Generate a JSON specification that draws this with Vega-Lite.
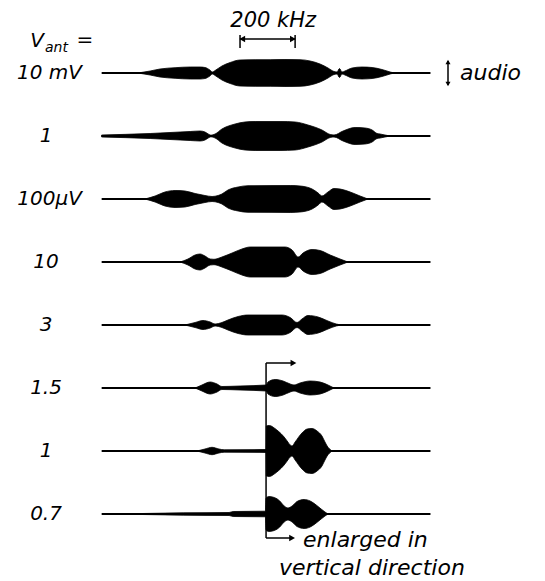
{
  "$schema": "https://vega.github.io/schema/vega-lite/v6.json",
  "width": 545,
  "height": 581,
  "autosize": {"type": "fit", "contains": "padding"},
  "padding": 0,
  "background": "white",
  "config": {"view": {"stroke": null}},
  "encoding": {
    "x": {"field": "f", "type": "quantitative", "scale": {"domain": [-971, 1018], "nice": false, "zero": false}, "axis": null},
    "y": {"field": "v", "type": "quantitative", "scale": {"domain": [-67, 514], "nice": false, "zero": false}, "axis": null}
  },
  "layer": [
    {
      "data": {"values": [
        {"r": "10 mV", "f": -600, "f2": 600, "v": 441},
        {"r": "1 mV", "f": -600, "f2": 600, "v": 378},
        {"r": "100 uV", "f": -600, "f2": 600, "v": 315},
        {"r": "10 uV", "f": -600, "f2": 600, "v": 252},
        {"r": "3 uV", "f": -600, "f2": 600, "v": 189},
        {"r": "1.5 uV", "f": -600, "f2": 600, "v": 126},
        {"r": "1 uV", "f": -600, "f2": 600, "v": 63},
        {"r": "0.7 uV", "f": -600, "f2": 600, "v": 0}
      ]},
      "mark": {"type": "rule", "color": "black", "strokeWidth": 2},
      "encoding": {"x2": {"field": "f2"}}
    },
    {
      "data": {"values": [
        {"r": "10 mV", "f": -467, "v": 441, "v2": 441},
        {"r": "10 mV", "f": -423, "v": 443, "v2": 439},
        {"r": "10 mV", "f": -387, "v": 445, "v2": 437},
        {"r": "10 mV", "f": -332, "v": 446.3, "v2": 435.7},
        {"r": "10 mV", "f": -277, "v": 447, "v2": 435},
        {"r": "10 mV", "f": -241, "v": 447, "v2": 435},
        {"r": "10 mV", "f": -223, "v": 446.5, "v2": 435.5},
        {"r": "10 mV", "f": -205, "v": 444, "v2": 438},
        {"r": "10 mV", "f": -196, "v": 442, "v2": 440},
        {"r": "10 mV", "f": -186, "v": 443.5, "v2": 438.5},
        {"r": "10 mV", "f": -161, "v": 448, "v2": 434},
        {"r": "10 mV", "f": -131, "v": 451.5, "v2": 430.5},
        {"r": "10 mV", "f": -95, "v": 454, "v2": 428},
        {"r": "10 mV", "f": -40, "v": 454.3, "v2": 427.7},
        {"r": "10 mV", "f": 15, "v": 454.3, "v2": 427.7},
        {"r": "10 mV", "f": 69, "v": 454.5, "v2": 427.5},
        {"r": "10 mV", "f": 124, "v": 454.3, "v2": 427.7},
        {"r": "10 mV", "f": 161, "v": 453, "v2": 429},
        {"r": "10 mV", "f": 197, "v": 450, "v2": 432},
        {"r": "10 mV", "f": 226, "v": 446, "v2": 436},
        {"r": "10 mV", "f": 248, "v": 442.5, "v2": 439.5},
        {"r": "10 mV", "f": 259, "v": 442, "v2": 440},
        {"r": "10 mV", "f": 268, "v": 445.5, "v2": 436.5},
        {"r": "10 mV", "f": 277, "v": 442, "v2": 440},
        {"r": "10 mV", "f": 288, "v": 443, "v2": 439},
        {"r": "10 mV", "f": 314, "v": 446, "v2": 436},
        {"r": "10 mV", "f": 350, "v": 447, "v2": 435},
        {"r": "10 mV", "f": 387, "v": 446.5, "v2": 435.5},
        {"r": "10 mV", "f": 423, "v": 444.5, "v2": 437.5},
        {"r": "10 mV", "f": 453, "v": 442, "v2": 440},
        {"r": "10 mV", "f": 467, "v": 441, "v2": 441},

        {"r": "1 mV", "f": -600, "v": 379, "v2": 377},
        {"r": "1 mV", "f": -423, "v": 380.5, "v2": 375.5},
        {"r": "1 mV", "f": -277, "v": 382.5, "v2": 373.5},
        {"r": "1 mV", "f": -241, "v": 383, "v2": 373},
        {"r": "1 mV", "f": -223, "v": 382, "v2": 374},
        {"r": "1 mV", "f": -208, "v": 379.5, "v2": 376.5},
        {"r": "1 mV", "f": -201, "v": 378.8, "v2": 377.2},
        {"r": "1 mV", "f": -186, "v": 380, "v2": 376},
        {"r": "1 mV", "f": -161, "v": 385, "v2": 371},
        {"r": "1 mV", "f": -113, "v": 390, "v2": 366},
        {"r": "1 mV", "f": -77, "v": 392, "v2": 364},
        {"r": "1 mV", "f": -40, "v": 392.5, "v2": 363.5},
        {"r": "1 mV", "f": 51, "v": 392.5, "v2": 363.5},
        {"r": "1 mV", "f": 106, "v": 392, "v2": 364},
        {"r": "1 mV", "f": 153, "v": 389, "v2": 367},
        {"r": "1 mV", "f": 204, "v": 384, "v2": 372},
        {"r": "1 mV", "f": 234, "v": 379.5, "v2": 376.5},
        {"r": "1 mV", "f": 248, "v": 379, "v2": 377},
        {"r": "1 mV", "f": 281, "v": 383, "v2": 373},
        {"r": "1 mV", "f": 325, "v": 386.5, "v2": 369.5},
        {"r": "1 mV", "f": 361, "v": 386, "v2": 370},
        {"r": "1 mV", "f": 387, "v": 384, "v2": 372},
        {"r": "1 mV", "f": 405, "v": 380.5, "v2": 375.5},
        {"r": "1 mV", "f": 416, "v": 380, "v2": 376},
        {"r": "1 mV", "f": 434, "v": 379, "v2": 377},
        {"r": "1 mV", "f": 453, "v": 378, "v2": 378},

        {"r": "100 uV", "f": -442, "v": 315, "v2": 315},
        {"r": "100 uV", "f": -405, "v": 318, "v2": 312},
        {"r": "100 uV", "f": -369, "v": 322, "v2": 308},
        {"r": "100 uV", "f": -332, "v": 323.5, "v2": 306.5},
        {"r": "100 uV", "f": -296, "v": 323, "v2": 307},
        {"r": "100 uV", "f": -259, "v": 320.5, "v2": 309.5},
        {"r": "100 uV", "f": -223, "v": 318.5, "v2": 311.5},
        {"r": "100 uV", "f": -197, "v": 317.5, "v2": 312.5},
        {"r": "100 uV", "f": -175, "v": 318.5, "v2": 311.5},
        {"r": "100 uV", "f": -161, "v": 320, "v2": 310},
        {"r": "100 uV", "f": -139, "v": 324, "v2": 306},
        {"r": "100 uV", "f": -102, "v": 327, "v2": 303},
        {"r": "100 uV", "f": -66, "v": 328.3, "v2": 301.7},
        {"r": "100 uV", "f": 88, "v": 328.5, "v2": 301.5},
        {"r": "100 uV", "f": 124, "v": 328, "v2": 302},
        {"r": "100 uV", "f": 168, "v": 325, "v2": 305},
        {"r": "100 uV", "f": 190, "v": 321, "v2": 309},
        {"r": "100 uV", "f": 204, "v": 318, "v2": 312},
        {"r": "100 uV", "f": 226, "v": 322, "v2": 308},
        {"r": "100 uV", "f": 248, "v": 325.5, "v2": 304.5},
        {"r": "100 uV", "f": 270, "v": 325, "v2": 305},
        {"r": "100 uV", "f": 307, "v": 322, "v2": 308},
        {"r": "100 uV", "f": 343, "v": 318, "v2": 312},
        {"r": "100 uV", "f": 372, "v": 315, "v2": 315},

        {"r": "10 uV", "f": -314, "v": 252, "v2": 252},
        {"r": "10 uV", "f": -285, "v": 255, "v2": 249},
        {"r": "10 uV", "f": -259, "v": 259, "v2": 245},
        {"r": "10 uV", "f": -241, "v": 260, "v2": 244},
        {"r": "10 uV", "f": -223, "v": 258, "v2": 246},
        {"r": "10 uV", "f": -204, "v": 255, "v2": 249},
        {"r": "10 uV", "f": -190, "v": 254.7, "v2": 249.3},
        {"r": "10 uV", "f": -161, "v": 257, "v2": 247},
        {"r": "10 uV", "f": -124, "v": 261, "v2": 243},
        {"r": "10 uV", "f": -88, "v": 265, "v2": 239},
        {"r": "10 uV", "f": -58, "v": 267, "v2": 237},
        {"r": "10 uV", "f": 69, "v": 267, "v2": 237},
        {"r": "10 uV", "f": 95, "v": 264, "v2": 240},
        {"r": "10 uV", "f": 117, "v": 257, "v2": 247},
        {"r": "10 uV", "f": 135, "v": 261, "v2": 243},
        {"r": "10 uV", "f": 168, "v": 264.5, "v2": 239.5},
        {"r": "10 uV", "f": 197, "v": 263.5, "v2": 240.5},
        {"r": "10 uV", "f": 234, "v": 259, "v2": 245},
        {"r": "10 uV", "f": 270, "v": 255, "v2": 249},
        {"r": "10 uV", "f": 299, "v": 252, "v2": 252},

        {"r": "3 uV", "f": -296, "v": 189, "v2": 189},
        {"r": "3 uV", "f": -259, "v": 191.5, "v2": 186.5},
        {"r": "3 uV", "f": -230, "v": 193.5, "v2": 184.5},
        {"r": "3 uV", "f": -204, "v": 192, "v2": 186},
        {"r": "3 uV", "f": -186, "v": 190, "v2": 188},
        {"r": "3 uV", "f": -161, "v": 191.5, "v2": 186.5},
        {"r": "3 uV", "f": -139, "v": 194, "v2": 184},
        {"r": "3 uV", "f": -102, "v": 197.5, "v2": 180.5},
        {"r": "3 uV", "f": -66, "v": 199, "v2": 179},
        {"r": "3 uV", "f": 58, "v": 199, "v2": 179},
        {"r": "3 uV", "f": 88, "v": 196.5, "v2": 181.5},
        {"r": "3 uV", "f": 113, "v": 191.5, "v2": 186.5},
        {"r": "3 uV", "f": 131, "v": 195, "v2": 183},
        {"r": "3 uV", "f": 153, "v": 198.5, "v2": 179.5},
        {"r": "3 uV", "f": 190, "v": 197, "v2": 181},
        {"r": "3 uV", "f": 226, "v": 193, "v2": 185},
        {"r": "3 uV", "f": 256, "v": 190, "v2": 188},
        {"r": "3 uV", "f": 277, "v": 189, "v2": 189},

        {"r": "1.5 uV", "f": -259, "v": 126, "v2": 126},
        {"r": "1.5 uV", "f": -234, "v": 129, "v2": 123},
        {"r": "1.5 uV", "f": -204, "v": 132, "v2": 120},
        {"r": "1.5 uV", "f": -179, "v": 130, "v2": 122},
        {"r": "1.5 uV", "f": -161, "v": 127.5, "v2": 124.5},
        {"r": "1.5 uV", "f": -95, "v": 128, "v2": 124},
        {"r": "1.5 uV", "f": 0, "v": 129, "v2": 123},
        {"r": "1.5 uV", "f": 7, "v": 132, "v2": 120},
        {"r": "1.5 uV", "f": 33, "v": 134.5, "v2": 117.5},
        {"r": "1.5 uV", "f": 62, "v": 133, "v2": 119},
        {"r": "1.5 uV", "f": 88, "v": 130, "v2": 122},
        {"r": "1.5 uV", "f": 102, "v": 129, "v2": 123},
        {"r": "1.5 uV", "f": 124, "v": 131, "v2": 121},
        {"r": "1.5 uV", "f": 161, "v": 133, "v2": 119},
        {"r": "1.5 uV", "f": 197, "v": 132, "v2": 120},
        {"r": "1.5 uV", "f": 226, "v": 129, "v2": 123},
        {"r": "1.5 uV", "f": 248, "v": 126, "v2": 126},

        {"r": "1 uV", "f": -252, "v": 63, "v2": 63},
        {"r": "1 uV", "f": -223, "v": 65, "v2": 61},
        {"r": "1 uV", "f": -197, "v": 66.7, "v2": 59.3},
        {"r": "1 uV", "f": -172, "v": 65, "v2": 61},
        {"r": "1 uV", "f": -153, "v": 64.2, "v2": 61.8},
        {"r": "1 uV", "f": 0, "v": 64.5, "v2": 61.5},
        {"r": "1 uV", "f": 1, "v": 88, "v2": 38},
        {"r": "1 uV", "f": 12, "v": 88.5, "v2": 37.5},
        {"r": "1 uV", "f": 30, "v": 86, "v2": 40},
        {"r": "1 uV", "f": 44, "v": 83, "v2": 43},
        {"r": "1 uV", "f": 66, "v": 77, "v2": 49},
        {"r": "1 uV", "f": 77, "v": 73, "v2": 53},
        {"r": "1 uV", "f": 88, "v": 69, "v2": 57},
        {"r": "1 uV", "f": 95, "v": 68, "v2": 58},
        {"r": "1 uV", "f": 106, "v": 72, "v2": 54},
        {"r": "1 uV", "f": 131, "v": 81, "v2": 45},
        {"r": "1 uV", "f": 150, "v": 85, "v2": 41},
        {"r": "1 uV", "f": 168, "v": 85.5, "v2": 40.5},
        {"r": "1 uV", "f": 186, "v": 83, "v2": 43},
        {"r": "1 uV", "f": 204, "v": 78, "v2": 48},
        {"r": "1 uV", "f": 215, "v": 72, "v2": 54},
        {"r": "1 uV", "f": 223, "v": 68, "v2": 58},
        {"r": "1 uV", "f": 241, "v": 63, "v2": 63},

        {"r": "0.7 uV", "f": -450, "v": 0.5, "v2": -0.5},
        {"r": "0.7 uV", "f": -300, "v": 1.2, "v2": -1.2},
        {"r": "0.7 uV", "f": -135, "v": 1.5, "v2": -1.5},
        {"r": "0.7 uV", "f": -120, "v": 2.5, "v2": -2.5},
        {"r": "0.7 uV", "f": -2, "v": 2.8, "v2": -2.8},
        {"r": "0.7 uV", "f": 0, "v": 16, "v2": -16},
        {"r": "0.7 uV", "f": 10, "v": 17.5, "v2": -17.5},
        {"r": "0.7 uV", "f": 30, "v": 16.5, "v2": -16.5},
        {"r": "0.7 uV", "f": 50, "v": 13, "v2": -13},
        {"r": "0.7 uV", "f": 66, "v": 8, "v2": -8},
        {"r": "0.7 uV", "f": 80, "v": 6, "v2": -6},
        {"r": "0.7 uV", "f": 95, "v": 8, "v2": -8},
        {"r": "0.7 uV", "f": 113, "v": 12.5, "v2": -12.5},
        {"r": "0.7 uV", "f": 139, "v": 14.5, "v2": -14.5},
        {"r": "0.7 uV", "f": 161, "v": 13, "v2": -13},
        {"r": "0.7 uV", "f": 183, "v": 9, "v2": -9},
        {"r": "0.7 uV", "f": 201, "v": 5, "v2": -5},
        {"r": "0.7 uV", "f": 215, "v": 2, "v2": -2},
        {"r": "0.7 uV", "f": 226, "v": 0, "v2": 0}
      ]},
      "mark": {"type": "area", "color": "black", "interpolate": "monotone", "stroke": "black", "strokeWidth": 0.8},
      "encoding": {"y2": {"field": "v2"}, "detail": {"field": "r"}}
    },
    {
      "data": {"values": [
        {"k": "200 kHz bracket", "f": -95, "f2": 106, "v": 475},
        {"k": "enlarged top", "f": 0, "f2": 95, "v": 151},
        {"k": "enlarged bottom", "f": 0, "f2": 90, "v": -24}
      ]},
      "mark": {"type": "rule", "color": "black", "strokeWidth": 1.5},
      "encoding": {"x2": {"field": "f2"}}
    },
    {
      "data": {"values": [
        {"k": "bracket left", "f": -95, "v": 466, "v2": 479},
        {"k": "bracket right", "f": 106, "v": 466, "v2": 479},
        {"k": "enlarged", "f": 0, "v": 151, "v2": -24},
        {"k": "audio", "f": 664, "v": 429, "v2": 453}
      ]},
      "mark": {"type": "rule", "color": "black", "strokeWidth": 1.5},
      "encoding": {"y2": {"field": "v2"}}
    },
    {
      "data": {"values": [
        {"f": 98, "v": 475},
        {"f": 100, "v": 151},
        {"f": 95, "v": -24}
      ]},
      "mark": {"type": "point", "shape": "triangle-right", "filled": true, "color": "black", "size": 45, "opacity": 1}
    },
    {
      "data": {"values": [{"f": -87, "v": 475}]},
      "mark": {"type": "point", "shape": "triangle-left", "filled": true, "color": "black", "size": 45, "opacity": 1}
    },
    {
      "data": {"values": [{"f": 664, "v": 452}]},
      "mark": {"type": "point", "shape": "triangle-up", "filled": true, "color": "black", "size": 25, "opacity": 1}
    },
    {
      "data": {"values": [{"f": 664, "v": 430}]},
      "mark": {"type": "point", "shape": "triangle-down", "filled": true, "color": "black", "size": 25, "opacity": 1}
    },
    {
      "data": {"values": [
        {"t": "10 mV", "f": -672, "v": 441},
        {"t": "100μV", "f": -672, "v": 315}
      ]},
      "mark": {"type": "text", "align": "right", "baseline": "middle", "font": "DejaVu Sans", "fontStyle": "italic", "fontSize": 20, "color": "black"},
      "encoding": {"text": {"field": "t"}}
    },
    {
      "data": {"values": [
        {"t": "1", "f": -803, "v": 378},
        {"t": "10", "f": -803, "v": 252},
        {"t": "3", "f": -803, "v": 189},
        {"t": "1.5", "f": -803, "v": 126},
        {"t": "1", "f": -803, "v": 63},
        {"t": "0.7", "f": -803, "v": 0}
      ]},
      "mark": {"type": "text", "align": "center", "baseline": "middle", "font": "DejaVu Sans", "fontStyle": "italic", "fontSize": 20, "color": "black"},
      "encoding": {"text": {"field": "t"}}
    },
    {
      "data": {"values": [
        {"t": "audio", "f": 708, "v": 441},
        {"t": "enlarged in", "f": 135, "v": -26},
        {"t": "vertical direction", "f": 47, "v": -54}
      ]},
      "mark": {"type": "text", "align": "left", "baseline": "middle", "font": "DejaVu Sans", "fontStyle": "italic", "fontSize": 22, "color": "black"},
      "encoding": {"text": {"field": "t"}}
    },
    {
      "data": {"values": [{"t": "200 kHz", "f": 26, "v": 493}]},
      "mark": {"type": "text", "align": "center", "baseline": "middle", "font": "DejaVu Sans", "fontStyle": "italic", "fontSize": 21, "color": "black"},
      "encoding": {"text": {"field": "t"}}
    },
    {
      "data": {"values": [{"t": "V", "f": -861, "v": 473}, {"t": "=", "f": -692, "v": 474}]},
      "mark": {"type": "text", "align": "left", "baseline": "middle", "font": "DejaVu Sans", "fontStyle": "italic", "fontSize": 20, "color": "black"},
      "encoding": {"text": {"field": "t"}}
    },
    {
      "data": {"values": [{"t": "ant", "f": -807, "v": 466}]},
      "mark": {"type": "text", "align": "left", "baseline": "middle", "font": "DejaVu Sans", "fontStyle": "italic", "fontSize": 14, "color": "black"},
      "encoding": {"text": {"field": "t"}}
    }
  ]
}
